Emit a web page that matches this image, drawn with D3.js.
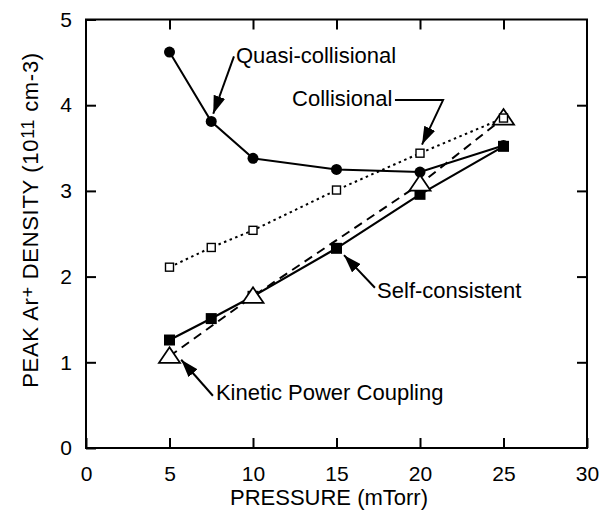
<!DOCTYPE html>
<html lang="en">
  <head>
    <meta charset="UTF-8" />
    <title>Peak Ar+ density vs pressure</title>
    <script src="https://d3js.org/d3.v7.min.js"></script>
    <style>
      body {
        margin: 0;
        background: #fff;
      }
      svg text {
        font-family: "Liberation Sans", Arial, sans-serif;
        fill: #000;
      }
    </style>
  </head>
  <body>
    <svg id="chart" width="611" height="512"></svg>

    <script>
      // values
      const pressure = [5, 7.5, 10, 15, 20, 25];
      const quasiCollisional = [4.62, 3.81, 3.38, 3.25, 3.22, 3.53];
      const collisional = [2.11, 2.34, 2.54, 3.01, 3.44, 3.85];
      const selfConsistent = [1.26, 1.51, 1.77, 2.33, 2.96, 3.52];
      const kineticPressure = [5, 10, 20, 25];
      const kinetic = [1.07, 1.77, 3.08, 3.85];
      const xTicks = [0, 5, 10, 15, 20, 25, 30];
      const yTicks = [0, 1, 2, 3, 4, 5];

      // annotation labels + arrows (data units)
      const labels = [
        { text: "Quasi-collisional", x: 8.98, y: 4.49 },
        { text: "Collisional", x: 12.34, y: 3.99 },
        { text: "Self-consistent", x: 17.43, y: 1.75 },
        { text: "Kinetic Power Coupling", x: 7.78, y: 0.56 },
      ];
      const arrows = [
        [[8.86, 4.57], [7.62, 3.9]],
        [[18.5, 4.06], [21.38, 4.06], [20.12, 3.54]],
        [[17.3, 1.87], [15.45, 2.25]],
        [[7.6, 0.61], [5.7, 1.03]],
      ];

      const width = 611;
      const height = 512;
      const margin = { top: 19.5, right: 24, bottom: 64, left: 86 };

      const svg = d3.select("#chart");

      const x = d3.scaleLinear().domain([0, 30]).range([margin.left, width - margin.right]);
      const y = d3.scaleLinear().domain([0, 5]).range([height - margin.bottom, margin.top]);

      // frame with inward ticks on all sides
      svg
        .append("rect")
        .attr("x", x(0))
        .attr("y", y(5))
        .attr("width", x(30) - x(0))
        .attr("height", y(0) - y(5))
        .attr("fill", "none")
        .attr("stroke", "#000")
        .attr("stroke-width", 2);

      const tickFont = (g) => g.selectAll("text").style("font-size", "21px").attr("fill", "#000");

      svg
        .append("g")
        .attr("transform", `translate(0,${y(0)})`)
        .call(d3.axisBottom(x).tickValues(xTicks).tickSize(-10).tickPadding(18).tickFormat(d3.format("d")))
        .call((g) => g.select(".domain").remove())
        .call((g) => g.selectAll("line").attr("stroke-width", 2))
        .call(tickFont);

      svg
        .append("g")
        .attr("transform", `translate(0,${y(5)})`)
        .call(d3.axisTop(x).tickValues(xTicks.slice(1, -1)).tickSize(-10).tickFormat(""))
        .call((g) => g.select(".domain").remove())
        .call((g) => g.selectAll("line").attr("stroke-width", 2));

      svg
        .append("g")
        .attr("transform", `translate(${x(0)},0)`)
        .call(d3.axisLeft(y).tickValues(yTicks).tickSize(-10).tickPadding(14).tickFormat(d3.format("d")))
        .call((g) => g.select(".domain").remove())
        .call((g) => g.selectAll("line").attr("stroke-width", 2))
        .call(tickFont);

      svg
        .append("g")
        .attr("transform", `translate(${x(30)},0)`)
        .call(d3.axisRight(y).tickValues(yTicks.slice(1, -1)).tickSize(-10).tickFormat(""))
        .call((g) => g.select(".domain").remove())
        .call((g) => g.selectAll("line").attr("stroke-width", 2));

      // axis titles
      svg
        .append("text")
        .attr("x", 329)
        .attr("y", 505)
        .attr("text-anchor", "middle")
        .style("font-size", "22px")
        .text("PRESSURE (mTorr)");

      const yTitle = svg
        .append("text")
        .attr("transform", "translate(38,220) rotate(-90)")
        .attr("text-anchor", "middle")
        .style("font-size", "22px")
        .style("letter-spacing", "0.7px");
      yTitle.append("tspan").text("PEAK Ar");
      yTitle.append("tspan").attr("baseline-shift", "4").style("font-size", "18px").text("+");
      yTitle.append("tspan").text(" DENSITY (10");
      yTitle.append("tspan").attr("baseline-shift", "4").style("font-size", "18px").text("11");
      yTitle.append("tspan").text(" cm-3)");

      // series lines
      const line = d3
        .line()
        .x((d) => x(d[0]))
        .y((d) => y(d[1]));

      const zip = (xs, ys) => xs.map((v, i) => [v, ys[i]]);

      const series = [
        { data: zip(pressure, collisional), dash: "2.5,3.5", width: 2 },
        { data: zip(kineticPressure, kinetic), dash: "9,6", width: 2 },
        { data: zip(pressure, quasiCollisional), dash: null, width: 2 },
        { data: zip(pressure, selfConsistent), dash: null, width: 2.2 },
      ];

      series.forEach((s) => {
        svg
          .append("path")
          .datum(s.data)
          .attr("d", line)
          .attr("fill", "none")
          .attr("stroke", "#000")
          .attr("stroke-width", s.width)
          .attr("stroke-dasharray", s.dash);
      });

      // markers
      svg
        .selectAll(".circle")
        .data(zip(pressure, quasiCollisional))
        .join("circle")
        .attr("cx", (d) => x(d[0]))
        .attr("cy", (d) => y(d[1]))
        .attr("r", 5.5)
        .attr("fill", "#000");

      svg
        .selectAll(".sq")
        .data(zip(pressure, selfConsistent))
        .join("rect")
        .attr("x", (d) => x(d[0]) - 5.5)
        .attr("y", (d) => y(d[1]) - 5.5)
        .attr("width", 11)
        .attr("height", 11)
        .attr("fill", "#000");

      svg
        .selectAll(".tri")
        .data(zip(kineticPressure, kinetic))
        .join("path")
        .attr("transform", (d) => `translate(${x(d[0])},${y(d[1])})`)
        .attr("d", "M0,-9L10.5,6.5L-10.5,6.5Z")
        .attr("fill", "#fff")
        .attr("stroke", "#000")
        .attr("stroke-width", 1.8);

      svg
        .selectAll(".osq")
        .data(zip(pressure, collisional))
        .join("rect")
        .attr("x", (d) => x(d[0]) - 4)
        .attr("y", (d) => y(d[1]) - 4)
        .attr("width", 8)
        .attr("height", 8)
        .attr("fill", "#fff")
        .attr("stroke", "#000")
        .attr("stroke-width", 1.4);

      // annotations
      svg
        .append("defs")
        .append("marker")
        .attr("id", "head")
        .attr("viewBox", "0 -6 18 12")
        .attr("refX", 18)
        .attr("refY", 0)
        .attr("markerWidth", 18)
        .attr("markerHeight", 12)
        .attr("markerUnits", "userSpaceOnUse")
        .attr("orient", "auto")
        .append("path")
        .attr("d", "M0,-6L18,0L0,6Z")
        .attr("fill", "#000");

      arrows.forEach((a) => {
        svg
          .append("path")
          .datum(a)
          .attr("d", line)
          .attr("fill", "none")
          .attr("stroke", "#000")
          .attr("stroke-width", 2)
          .attr("marker-end", "url(#head)");
      });

      svg
        .selectAll(".label")
        .data(labels)
        .join("text")
        .attr("x", (d) => x(d.x))
        .attr("y", (d) => y(d.y))
        .style("font-size", "22px")
        .text((d) => d.text);
    </script>
  </body>
</html>
